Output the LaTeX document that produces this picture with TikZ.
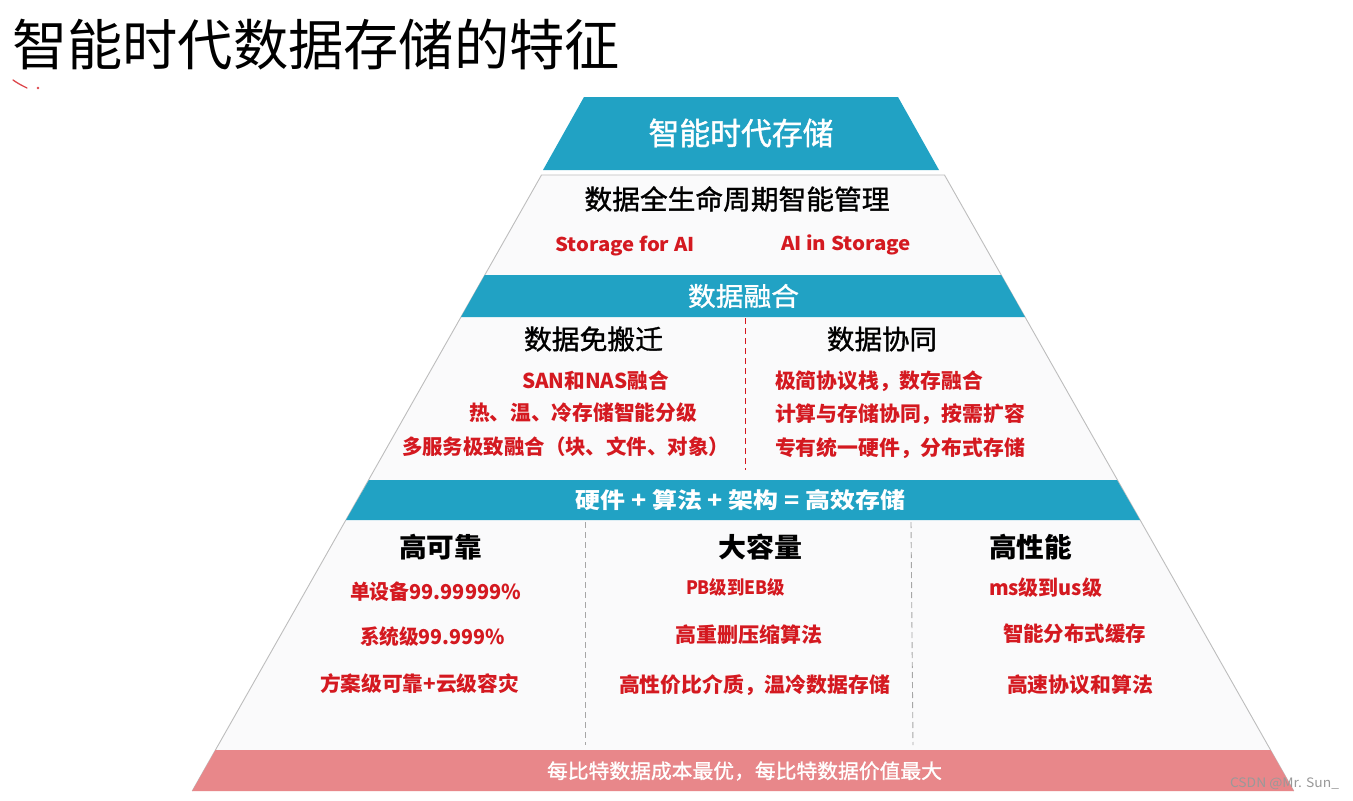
\documentclass[tikz,border=0pt]{standalone}
\usepackage{fontspec}
\usepackage{graphicx}
\newfontfamily\cjk{Noto Sans CJK SC}
\newfontfamily\cjkmed[FakeBold=1.2]{Noto Sans CJK SC}
\definecolor{tealband}{HTML}{21A2C4}
\definecolor{pinkband}{HTML}{E8878A}
\definecolor{redt}{HTML}{D41920}
\definecolor{outl}{HTML}{BDBDBD}
\definecolor{paper}{HTML}{FAFAFB}
\newcommand{\fitto}[2]{\resizebox{#1pt}{\height}{#2}}
\newcommand{\fs}[1]{\fontsize{#1pt}{#1pt}\selectfont}
\tikzset{
  band/.style={fill=tealband, draw=none},
  txt/.style={inner sep=0pt, outer sep=0pt, anchor=center},
  head/.style={txt, text=black, font=\cjkmed\fs{27}},
  headb/.style={txt, text=black, font=\cjk\bfseries\fs{27}},
  reditem/.style={txt, text=redt, font=\cjk\bfseries\fs{20.5}},
  whitetxt/.style={txt, text=white, font=\cjk\bfseries\fs{22}},
  divred/.style={draw=redt, line width=1pt, dash pattern=on 6pt off 4pt},
  divgrey/.style={draw=gray!70, line width=0.9pt, dash pattern=on 6pt off 4pt}
}
\begin{document}
\begin{tikzpicture}[x=1pt,y=-1pt]
\useasboundingbox[fill=white] (0,0) rectangle (1353,801);

% pyramid body
\fill[paper] (541.5,175) -- (944.5,175) -- (1293.8,791) -- (192.2,791) -- cycle;
\draw[outl, line width=0.9pt] (192.2,791) -- (541.5,175) -- (944.5,175) -- (1293.8,791);

% top cap
\fill[band] (584,97) -- (898,97) -- (939,170) -- (543,170) -- cycle;
% data fusion band
\fill[band] (484.8,275) -- (1001.2,275) -- (1025,317) -- (461,317) -- cycle;
% hardware band
\fill[band] (369,480) -- (1117,480) -- (1140,520) -- (346,520) -- cycle;
% bottom pink band
\fill[pinkband] (215.5,750) -- (1270.5,750) -- (1293.8,791) -- (192.2,791) -- cycle;

% handwritten red marks
\draw[redt!80, line width=1.3pt, line cap=round] (13,80) .. controls (19,84) .. (27,88);
\fill[redt!80] (38,88) circle (1.3pt);

% title
\node[txt, font=\cjk\fs{55}] (title) at (316,45) {\fitto{608}{智能时代数据存储的特征}};

% level 1
\node[txt, text=white, font=\cjkmed\fs{31}] (cap) at (741,133) {\fitto{185}{智能时代存储}};
\node[head] (life) at (737,199) {\fitto{305}{数据全生命周期智能管理}};
\node[reditem, font=\cjk\bfseries\fs{19}] (sfai) at (625,246) {\fitto{139}{Storage for AI}};
\node[reditem, font=\cjk\bfseries\fs{19}] (ais) at (846,245) {\fitto{130}{AI in Storage}};

% level 2
\node[txt, text=white, font=\cjkmed\fs{26}] (fusion) at (743.5,296) {\fitto{111}{数据融合}};
\node[head] (nomig) at (593.5,339) {\fitto{139}{数据免搬迁}};
\node[head] (collab) at (882,339) {\fitto{110}{数据协同}};
\node[reditem] (l2a1) at (595.5,381) {\fitto{147}{SAN和NAS融合}};
\node[reditem] (l2a2) at (583,413) {\fitto{228}{热、温、冷存储智能分级}};
\node[reditem] (l2a3) at (565.5,447) {\fitto{327}{多服务极致融合（块、文件、对象）}};
\node[reditem, anchor=west] (l2b1) at (775,381) {\fitto{208}{极简协议栈，数存融合}};
\node[reditem, anchor=west] (l2b2) at (775,414) {\fitto{250}{计算与存储协同，按需扩容}};
\node[reditem, anchor=west] (l2b3) at (775,448) {\fitto{250}{专有统一硬件，分布式存储}};
\coordinate (d1t) at (745,318);
\coordinate (d1b) at (745,470);
\draw[divred] (d1t) -- (d1b);

% level 3
\node[whitetxt] (hw) at (740.5,500) {\fitto{329}{硬件 + 算法 + 架构 = 高效存储}};
\node[headb] (rel) at (440.5,547) {\fitto{83}{高可靠}};
\node[headb] (cap3) at (760,547) {\fitto{84}{大容量}};
\node[headb] (perf) at (1030.5,547) {\fitto{83}{高性能}};
\node[reditem] (r1) at (435.5,592) {\fitto{171}{单设备99.99999\%}};
\node[reditem] (r2) at (432.5,637) {\fitto{145}{系统级99.999\%}};
\node[reditem] (r3) at (419.5,684) {\fitto{199}{方案级可靠+云级容灾}};
\node[reditem, font=\cjk\bfseries\fs{18.5}] (c1) at (735.5,587) {\fitto{99}{PB级到EB级}};
\node[reditem] (c2) at (748.5,635) {\fitto{147}{高重删压缩算法}};
\node[reditem] (c3) at (754.5,685) {\fitto{271}{高性价比介质，温冷数据存储}};
\node[reditem] (p1) at (1045.5,588) {\fitto{113}{ms级到us级}};
\node[reditem] (p2) at (1074.5,634) {\fitto{143}{智能分布式缓存}};
\node[reditem] (p3) at (1080,685) {\fitto{146}{高速协议和算法}};
\coordinate (d2t) at (585,522);
\coordinate (d2b) at (585,745);
\coordinate (d3t) at (911,522);
\coordinate (d3b) at (913,745);
\draw[divgrey] (d2t) -- (d2b);
\draw[divgrey] (d3t) -- (d3b);

% bottom
\node[txt, text=white, font=\cjkmed\fs{20}] (bottom) at (744.5,771) {\fitto{395}{每比特数据成本最优，每比特数据价值最大}};
\node[txt, text=gray!80, font=\cjk\fs{13}] (csdn) at (1284.5,784) {\fitto{109}{CSDN @Mr. Sun\_}};
\end{tikzpicture}
\end{document}
